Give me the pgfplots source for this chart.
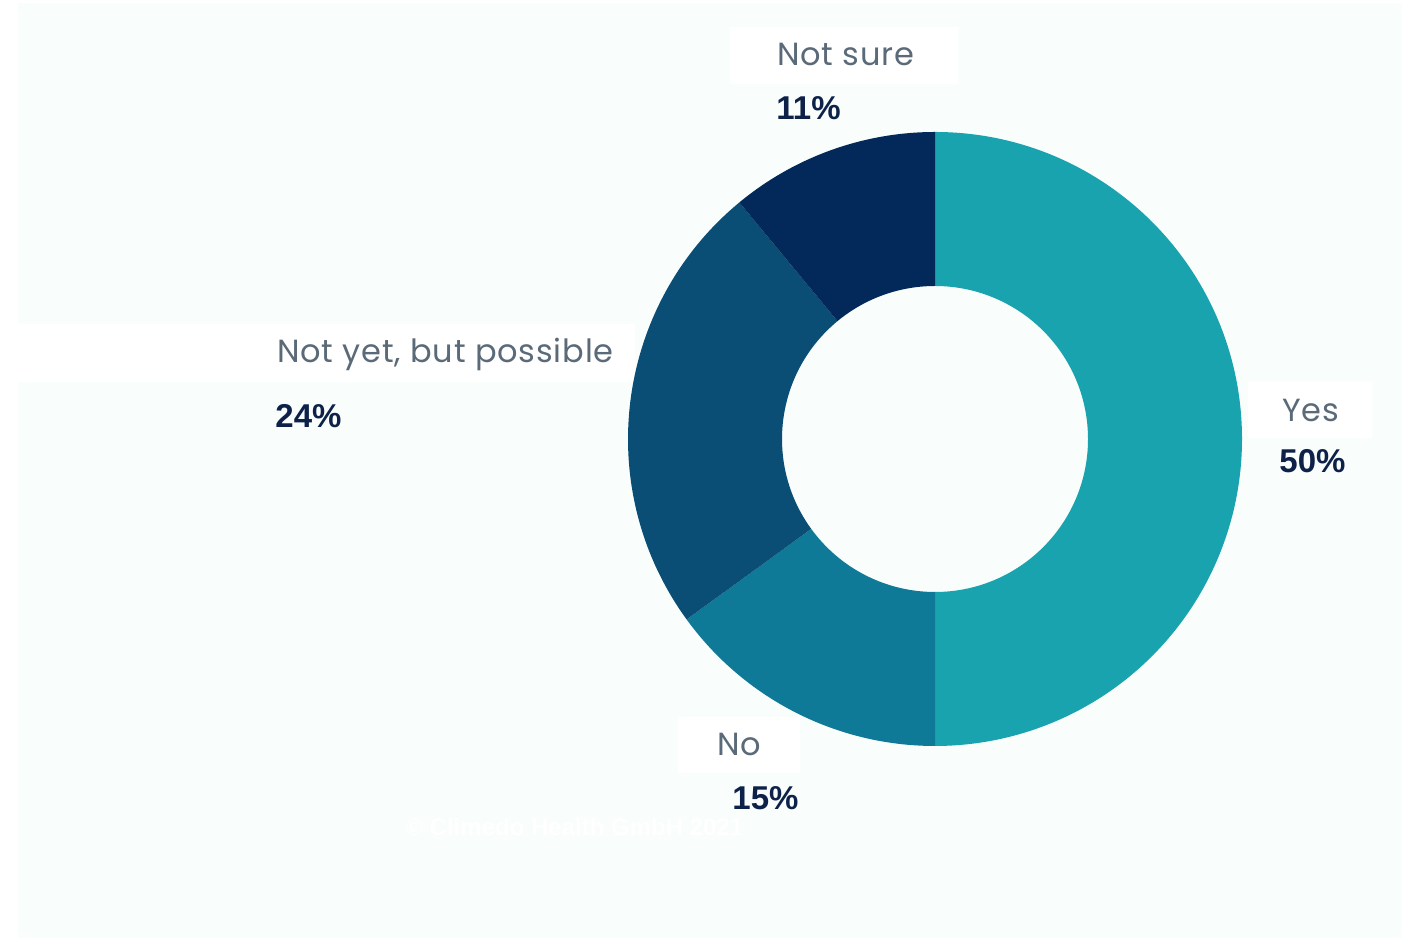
\documentclass[border=0pt]{standalone}
\usepackage{pgfplots}
\usepackage{pgfplotstable}
\pgfplotsset{compat=1.18}
\usetikzlibrary{calc}
\usepackage{fontspec}
\setmainfont{Poppins}[LetterSpace=2.5]
\newfontfamily\pctfont{Liberation Sans}
\definecolor{panel}{HTML}{F9FDFB}
\definecolor{lblgray}{HTML}{5A6A78}
\definecolor{pctnavy}{HTML}{0D2149}
\definecolor{slice0}{HTML}{19A3AE}
\definecolor{slice1}{HTML}{0E7A97}
\definecolor{slice2}{HTML}{0A4E76}
\definecolor{slice3}{HTML}{03295A}

\pgfplotstableread[col sep=comma]{
label,value
Yes,50
No,15
Not yet but possible,24
Not sure,11
}\datatable

\begin{document}
\begin{tikzpicture}
\begin{axis}[
  at={(0,0)}, anchor=south west,
  scale only axis, width=706pt, height=470.5pt,
  xmin=0, xmax=1412, ymin=0, ymax=941,
  axis lines=none, clip=false,
]
\fill[white] (axis cs:0,0) rectangle (axis cs:1412,941);
\fill[panel] (axis cs:18,3) rectangle (axis cs:1402,938);
% label boxes
\fill[white] (axis cs:730,914) rectangle (axis cs:958,857);
\fill[white] (axis cs:18,617) rectangle (axis cs:635,559);
\fill[white] (axis cs:1248,559) rectangle (axis cs:1372,503);
\fill[white] (axis cs:678,224) rectangle (axis cs:800,168);
% donut
\pgfplotsextra{%
  \gdef\startang{90}%
  \pgfplotsforeachungrouped \i in {0,...,3}{%
    \pgfplotstablegetelem{\i}{value}\of\datatable
    \pgfmathsetmacro\endang{\startang-3.6*\pgfplotsretval}%
    \fill[slice\i] (axis cs:935,502) ++(\startang:153.5pt)
      arc[start angle=\startang, end angle=\endang, radius=153.5pt]
      -- ($(axis cs:935,502)+(\endang:76.5pt)$)
      arc[start angle=\endang, end angle=\startang, radius=76.5pt] -- cycle;
    \xdef\startang{\endang}%
  }%
}
% labels
\node[anchor=base west, inner sep=0, text=lblgray, font=\fontsize{16}{19}\selectfont] at (axis cs:777,875) {Not sure};
\node[anchor=base west, inner sep=0, text=pctnavy, font=\pctfont\bfseries\fontsize{16.5}{19}\selectfont] at (axis cs:776,821) {11\%};
\node[anchor=base west, inner sep=0, text=lblgray, font=\fontsize{16}{19}\selectfont] at (axis cs:277,578) {Not yet, but possible};
\node[anchor=base west, inner sep=0, text=pctnavy, font=\pctfont\bfseries\fontsize{16.5}{19}\selectfont] at (axis cs:275,513) {24\%};
\node[anchor=base west, inner sep=0, text=lblgray, font=\fontsize{16}{19}\selectfont] at (axis cs:1282,519) {Yes};
\node[anchor=base west, inner sep=0, text=pctnavy, font=\pctfont\bfseries\fontsize{16.5}{19}\selectfont] at (axis cs:1279,468) {50\%};
\node[anchor=base west, inner sep=0, text=lblgray, font=\fontsize{16}{19}\selectfont] at (axis cs:717,185) {No};
\node[anchor=base west, inner sep=0, text=pctnavy, font=\pctfont\bfseries\fontsize{16.5}{19}\selectfont] at (axis cs:732,131) {15\%};
\node[anchor=base west, inner sep=0, text=white, font=\pctfont\bfseries\fontsize{12}{14}\selectfont] at (axis cs:405,105) {© Climedo Health GmbH 2021};
\end{axis}
\end{tikzpicture}
\end{document}
